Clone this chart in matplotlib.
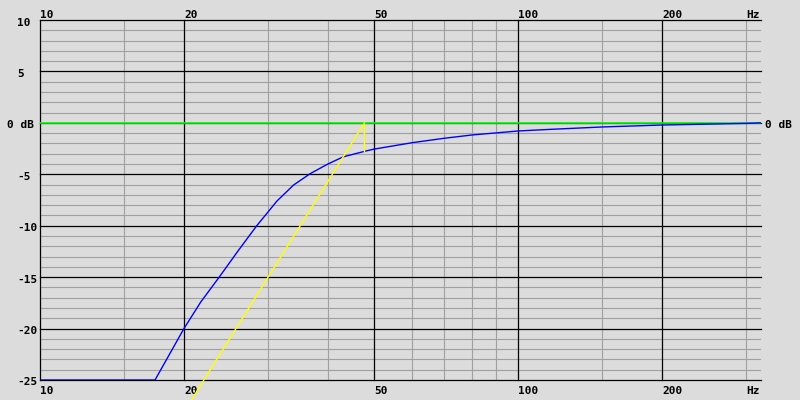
import numpy as np
import matplotlib
matplotlib.use("Agg")
import matplotlib.pyplot as plt

# response (Hz, dB)
freq = [10, 17.4, 20, 21.7, 23.7, 25, 26, 28.4, 30, 31.3, 33.9, 36.7, 40,
        43.1, 47.9, 50, 60, 70, 80, 100, 117, 150, 200, 300, 322]
resp_db = [-25, -25, -20.0, -17.4, -15.0, -13.5, -12.4, -10.0, -8.65, -7.6,
           -6.05, -4.95, -4.0, -3.3, -2.75, -2.55, -1.93, -1.50, -1.18, -0.79,
           -0.63, -0.40, -0.21, -0.05, 0.0]

# asymptote (yellow) with the drop back onto the curve
asym_freq = [20.0, 47.7, 47.7]
asym_db = [-28.1, 0.0, -2.8]

x_major = [10, 20, 50, 100, 200]
x_minor = [15, 30, 40, 60, 70, 80, 90, 150, 300]
x_labels = ["10", "20", "50", "100", "200"]
y_major = [10, 5, 0, -5, -10, -15, -20, -25]
y_labels = ["10", "5", "0 dB", "-5", "-10", "-15", "-20", "-25"]

bg = "#dcdcdc"
grey = "#a0a0a0"
font = dict(family="DejaVu Sans Mono", fontweight="bold", fontsize=8)

fig = plt.figure(figsize=(8, 4), dpi=100, facecolor=bg)
ax = fig.add_axes([40 / 800, 20 / 400, 721 / 800, 360 / 400])
ax.set_facecolor(bg)
ax.set_xscale("log")
ax.set_xlim(10, 322)
ax.set_ylim(-25, 10)
for s in ax.spines.values():
    s.set_visible(False)
ax.set_xticks([])
ax.set_yticks([])
ax.minorticks_off()

# grid
for v in range(-24, 10):
    if v % 5:
        ax.axhline(v, color=grey, lw=0.8, zorder=1)
for f in x_minor:
    ax.axvline(f, color=grey, lw=0.8, zorder=1)
for v in y_major:
    ax.axhline(v, color="black", lw=0.9, zorder=1.5, clip_on=False)
for f in x_major:
    ax.axvline(f, color="black", lw=0.9, zorder=1.5, clip_on=False)

ax.axhline(0, color="#00ff00", lw=1.2, zorder=2)
ax.plot(freq, resp_db, color="#0000ff", lw=1.0, zorder=3)
ax.plot(asym_freq, asym_db, color="#ffff00", lw=1.0, zorder=4, clip_on=False)

# x labels top and bottom
for f, lab in zip(x_major + [300], x_labels + ["Hz"]):
    ax.annotate(lab, xy=(f, 1), xycoords=("data", "axes fraction"),
                xytext=(0, 1.5), textcoords="offset pixels",
                ha="left", va="baseline", **font)
    ax.annotate(lab, xy=(f, 0), xycoords=("data", "axes fraction"),
                xytext=(0, -14), textcoords="offset pixels",
                ha="left", va="baseline", **font)

# y labels
for v, lab in zip(y_major, y_labels):
    x0 = 7 if lab == "0 dB" else 17
    ax.annotate(lab, xy=(x0, v), xycoords=("figure pixels", "data"),
                xytext=(0, -5.5), textcoords="offset pixels",
                ha="left", va="baseline", **font)
ax.annotate("0 dB", xy=(765, 0), xycoords=("figure pixels", "data"),
            xytext=(0, -5.5), textcoords="offset pixels",
            ha="left", va="baseline", **font)

fig.savefig("out.png", dpi=100, facecolor=bg)
